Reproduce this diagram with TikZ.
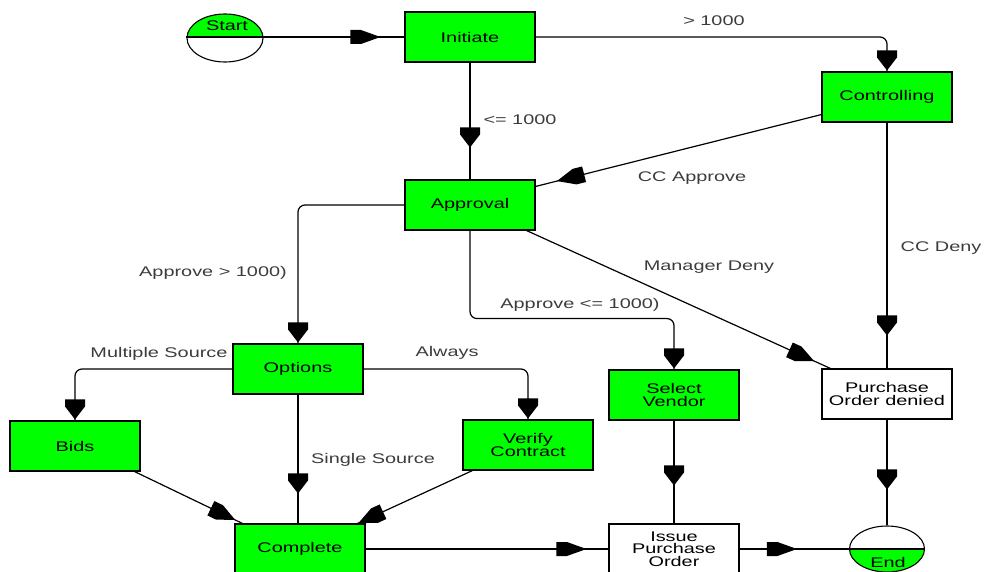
\documentclass[tikz,border=0pt]{standalone}
\usepackage{fontspec}
\setmainfont{Liberation Sans}[FakeStretch=1.42]
\usetikzlibrary{shapes.geometric,decorations.markings,calc}
\definecolor{boxgreen}{RGB}{0,255,0}
\definecolor{lblgray}{RGB}{60,60,60}
\begin{document}
\lineskiplimit=-20pt
\begin{tikzpicture}[x=1pt,y=-1pt,
  every node/.style={font=\fontsize{14}{12.5}\selectfont},
  stepbox/.style={draw, line width=1.1pt, fill=boxgreen, minimum width=130pt,
    minimum height=50pt, inner sep=0pt, align=center},
  whitebox/.style={stepbox, fill=white},
  lbl/.style={text=lblgray, inner sep=0pt},
  conn/.style={line width=1.2pt},
  bent/.style={conn, rounded corners=7pt},
  % filled arrow head placed along the path: position, length, half width
  tipat/.style n args={3}{postaction={decorate, decoration={markings,
    mark=at position #1 with {\fill (-#2pt,#3pt) -- ({-0.65*#2pt},#3pt) -- (0pt,0pt)
      -- ({-0.65*#2pt},-#3pt) -- (-#2pt,-#3pt) -- cycle;}}}}
]
\useasboundingbox (0,0) rectangle (985,572);

% start and end terminals
\begin{scope}
  \clip (225,38) ellipse [x radius=38pt, y radius=24pt];
  \fill[boxgreen] (180,0) rectangle (270,37);
\end{scope}
\node[ellipse, draw, line width=1.1pt, minimum width=76pt, minimum height=48pt, inner sep=0pt] (start) at (225,38) {};
\coordinate (startR) at ($(start.east)+(0,-1)$);
\draw[line width=1.1pt] ($(start.west)+(0,-1)$) -- (startR);
\node (starttxt) at (227,26) {Start};

\begin{scope}
  \clip (887,549) ellipse [x radius=37.5pt, y radius=23pt];
  \fill[boxgreen] (840,549) rectangle (935,580);
\end{scope}
\node[ellipse, draw, line width=1.1pt, minimum width=75pt, minimum height=46pt, inner sep=0pt] (end) at (887,549) {};
\draw[line width=1.1pt] (end.west) -- (end.east);
\node (endtxt) at (888,562) {End};

% process steps
\node[stepbox] (init) at (470,37) {Initiate};
\node[stepbox] (ctrl) at (887,97) {Controlling};
\node[stepbox] (appr) at (470,205) {Approval};
\node[stepbox] (opt)  at (298,369) {Options};
\node[stepbox] (bids) at (75,446) {Bids};
\node[stepbox] (ver)  at (528,445) {Verify\\Contract};
\node[stepbox] (selv) at (674,395) {Select\\Vendor};
\node[whitebox] (pod) at (887,394) {Purchase\\Order denied};
\node[stepbox] (cmp)  at (300,549) {Complete};
\node[whitebox] (iss) at (674,549) {Issue\\Purchase\\Order};

% straight connectors
\draw[conn, tipat={-24pt}{30}{7}] (startR) -- (init.west);
\draw[conn, tipat={-32pt}{20}{10}] (init.south) -- (appr.north);
\draw[conn, tipat={-22pt}{28}{8}] ([yshift=8pt]ctrl.south west) -- ([yshift=-7pt]appr.north east);
\draw[conn, tipat={-33pt}{20}{10}] (ctrl.south) -- (pod.north);
\draw[conn, tipat={-18pt}{27}{8}] ([xshift=-9pt]appr.south east) -- ([xshift=9pt]pod.north west);
\draw[conn, tipat={-30pt}{20}{10}] (opt.south) -- (opt.south |- cmp.north);
\draw[conn, tipat={-8pt}{27}{8}] ([xshift=-6pt]bids.south east) -- ([xshift=8pt]cmp.north west);
\draw[conn, tipat={-1pt}{27}{8}] ([xshift=10pt]ver.south west) -- ([xshift=-8pt]cmp.north east);
\draw[conn, tipat={-38pt}{20}{10}] (selv.south) -- (iss.north);
\draw[conn, tipat={-22pt}{30}{7}] (cmp.east) -- (iss.west);
\draw[conn, tipat={-52pt}{30}{7}] (iss.east) -- (end.west);
\draw[conn, tipat={-36pt}{20}{10}] (pod.south) -- (end.north);

% bent connectors, their heads on the last straight run
\draw[bent] (init.east) -| (ctrl.north);
\path[tipat={-1pt}{20}{10}] ([yshift=22pt]ctrl.north) -- (ctrl.north);
\draw[bent] (appr.south) -- ++(0,88) -| (selv.north);
\path[tipat={-1pt}{20}{10}] ([yshift=22pt]selv.north) -- (selv.north);
\draw[bent] (appr.west) -| (opt.north);
\path[tipat={-1pt}{20}{10}] ([yshift=22pt]opt.north) -- (opt.north);
\draw[bent] (opt.west) -| (bids.north);
\path[tipat={-1pt}{20}{10}] ([yshift=22pt]bids.north) -- (bids.north);
\draw[bent] (opt.east) -| (ver.north);
\path[tipat={-1pt}{20}{10}] ([yshift=22pt]ver.north) -- (ver.north);

% connector labels
\node[lbl] (lgt)   at (714,21)  {> 1000};
\node[lbl] (lle)   at (520,120) {<= 1000};
\node[lbl] (lcca)  at (692,178) {CC Approve};
\node[lbl] (lccd)  at (941,248) {CC Deny};
\node[lbl] (lmd)   at (709,267) {Manager Deny};
\node[lbl] (lagt)  at (213,273) {Approve > 1000)};
\node[lbl] (lale)  at (580,305) {Approve <= 1000)};
\node[lbl] (lms)   at (159,354) {Multiple Source};
\node[lbl] (lalw)  at (447,353) {Always};
\node[lbl] (lss)   at (373,460) {Single Source};
\end{tikzpicture}
\end{document}
